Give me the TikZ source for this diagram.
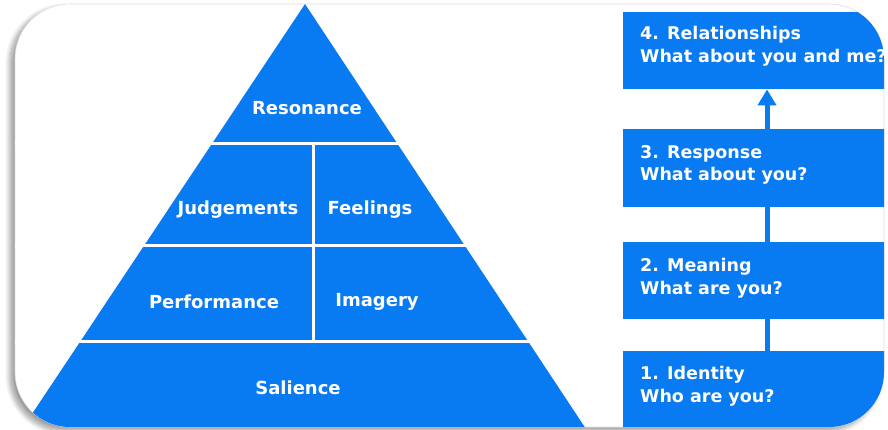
\documentclass[tikz,border=0pt]{standalone}
\usepackage{fontspec}
\setmainfont{DejaVu Sans}
\usetikzlibrary{arrows.meta,shadows.blur}
\definecolor{pblue}{RGB}{8,122,242}
\tikzset{
  pyrlbl/.style={text=white,font=\fontsize{18}{22}\selectfont\bfseries,inner sep=0pt},
  boxst/.style={fill=pblue,draw=none,anchor=north west,minimum width=300pt,inner sep=0pt},
  boxlbl/.style={text=white,font=\fontsize{17.5}{22.5}\selectfont\bfseries,align=left,anchor=west,inner sep=0pt},
  sepline/.style={white,line width=3pt},
  conn/.style={pblue,line width=5pt},
  connarrow/.style={pblue,line width=5pt,-{Triangle[width=18pt,length=16pt]}}
}
\begin{document}
\begin{tikzpicture}[x=1pt,y=-1pt]
\useasboundingbox (0,0) rectangle (888,429);
% card with shadow
\fill[white,draw=black!12,line width=0.6pt,rounded corners=55pt,blur shadow={shadow xshift=-5pt,shadow yshift=-4pt,shadow blur radius=5pt,shadow blur steps=12,shadow opacity=40}] (15,4) rectangle (884,427);
\begin{scope}
\clip[rounded corners=55pt] (15,4) rectangle (884,427);
% pyramid
\fill[pblue] (305,4) -- (588,432) -- (20,432) -- cycle;
\draw[sepline] (0,143) -- (700,143);
\draw[sepline] (0,245) -- (700,245);
\draw[sepline] (0,341) -- (700,341);
\draw[sepline] (313,143) -- (313,341);
% right boxes
\node[boxst,minimum height=77pt] (b4) at (623,12) {};
\node[boxst,minimum height=78pt] (b3) at (623,129) {};
\node[boxst,minimum height=77pt] (b2) at (623,242) {};
\node[boxst,minimum height=90pt] (b1) at (623,351) {};
\end{scope}
\coordinate (cx) at (767,0);
\draw[conn] (b1.north -| cx) -- (b2.south -| cx);
\draw[conn] (b2.north -| cx) -- (b3.south -| cx);
\draw[connarrow] (b3.north -| cx) -- (b4.south -| cx);
% pyramid labels
\node[pyrlbl] (res) at (307,108) {Resonance};
\node[pyrlbl] (jud) at (238,210) {Judgements};
\node[pyrlbl] (fee) at (370,210) {Feelings};
\node[pyrlbl] (per) at (214,302) {Performance};
\node[pyrlbl] (ima) at (377,302) {Imagery};
\node[pyrlbl] (sal) at (298,388) {Salience};
% box labels
\node[boxlbl] (t4) at (640,46) {4. Relationships\\What about you and me?};
\node[boxlbl] (t3) at (640,165) {3. Response\\What about you?};
\node[boxlbl] (t2) at (640,278) {2. Meaning\\What are you?};
\node[boxlbl] (t1) at (640,386) {1. Identity\\Who are you?};
\end{tikzpicture}
\end{document}
